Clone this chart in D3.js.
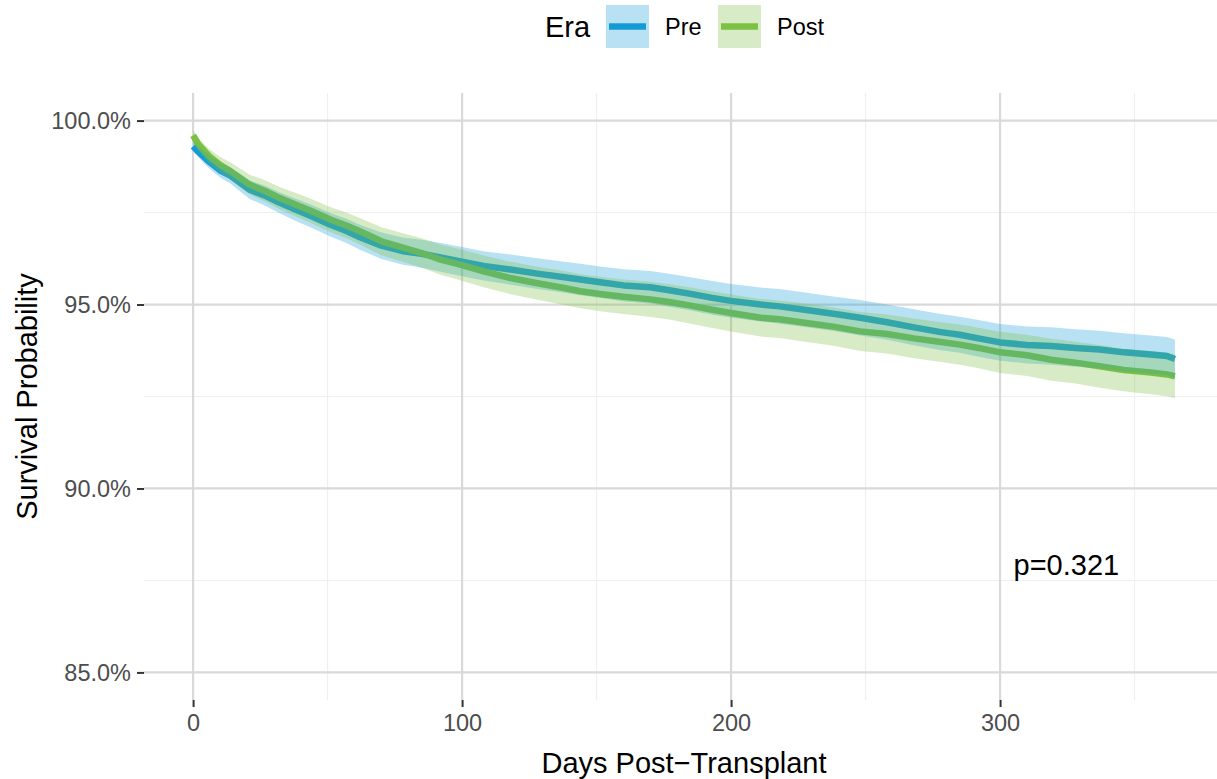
<!DOCTYPE html>
<html>
<head>
<meta charset="utf-8">
<script src="https://cdn.jsdelivr.net/npm/d3@7"></script>
<style>
  html, body { margin: 0; padding: 0; background: #fff; }
  svg { display: block; font-family: "Liberation Sans", Arial, sans-serif; }
</style>
</head>
<body>
<svg id="chart" width="1217" height="779"></svg>
<script>
// ---- data ----
const seriesNames = ["Pre", "Post"];
const days = [0,2,6,10,14,21,27,32,38,44,51,57,62,70,78,85,92,99,108,118,128,138,144,152,160,170,177,185,193,200,211,218,228,238,248,258,268,278,285,292,300,310,319,328,337,346,356,362,365];

const preSurv = [99.3,99.15,98.88,98.65,98.5,98.12,97.95,97.77,97.58,97.4,97.17,97.0,96.83,96.6,96.45,96.38,96.28,96.18,96.05,95.95,95.84,95.74,95.68,95.6,95.52,95.47,95.39,95.29,95.18,95.1,95.0,94.95,94.85,94.75,94.64,94.52,94.38,94.25,94.18,94.08,93.97,93.9,93.87,93.82,93.78,93.7,93.64,93.6,93.52];
const preUpper = [99.42,99.30,99.06,98.85,98.72,98.37,98.22,98.05,97.88,97.71,97.49,97.33,97.17,96.96,96.82,96.76,96.67,96.58,96.45,96.36,96.26,96.16,96.11,96.03,95.96,95.91,95.84,95.74,95.64,95.56,95.46,95.42,95.32,95.22,95.12,95.00,94.87,94.74,94.67,94.58,94.47,94.40,94.38,94.33,94.29,94.22,94.16,94.12,94.05];
const preLower = [99.18,99.00,98.70,98.45,98.28,97.87,97.68,97.49,97.28,97.09,96.85,96.67,96.49,96.24,96.08,96.00,95.89,95.78,95.65,95.54,95.42,95.32,95.25,95.17,95.08,95.03,94.94,94.84,94.72,94.64,94.54,94.48,94.38,94.28,94.16,94.04,93.89,93.76,93.69,93.58,93.47,93.40,93.36,93.31,93.27,93.18,93.12,93.08,92.99];

const postSurv = [99.6,99.35,99.03,98.8,98.62,98.26,98.08,97.9,97.72,97.54,97.31,97.15,96.99,96.72,96.55,96.4,96.22,96.09,95.9,95.72,95.58,95.45,95.36,95.28,95.21,95.14,95.07,94.97,94.86,94.77,94.64,94.6,94.5,94.4,94.27,94.2,94.08,93.98,93.91,93.82,93.7,93.62,93.5,93.42,93.32,93.22,93.15,93.1,93.05];
const postUpper = [99.74,99.52,99.23,99.02,98.86,98.53,98.37,98.20,98.04,97.87,97.65,97.50,97.35,97.10,96.94,96.80,96.63,96.51,96.33,96.16,96.03,95.91,95.82,95.75,95.68,95.62,95.55,95.46,95.36,95.27,95.15,95.11,95.02,94.92,94.80,94.73,94.62,94.52,94.46,94.37,94.26,94.18,94.07,93.99,93.90,93.80,93.74,93.69,93.65];
const postLower = [99.46,99.18,98.83,98.58,98.38,97.99,97.79,97.60,97.40,97.21,96.97,96.80,96.63,96.34,96.16,96.00,95.81,95.67,95.47,95.28,95.13,94.99,94.90,94.81,94.74,94.66,94.59,94.48,94.36,94.27,94.13,94.09,93.98,93.88,93.74,93.67,93.54,93.44,93.36,93.27,93.14,93.06,92.93,92.85,92.74,92.64,92.56,92.51,92.45];

const xTicks = [0, 100, 200, 300];
const xMinor = [50, 150, 250, 350];
const yTicks = [85, 90, 95, 100];
const yTickLabels = ["85.0%", "90.0%", "95.0%", "100.0%"];
const yMinor = [87.5, 92.5, 97.5];
const pLabel = "p=0.321";
const pPos = [305, 87.93];

// ---- style ----
const colors = { Pre: "#149BD7", Post: "#7BC142" };
const svg = d3.select("#chart");
const x = d3.scaleLinear().domain([-18.25, 383.25]).range([144, 1224]);
const y = d3.scaleLinear().domain([84.25, 100.75]).range([700, 93]);
const [pl, pr] = [144, 1224];
const [pt, pb] = [93, 700];

// grid
const grid = svg.append("g");
grid.selectAll(".ymin").data(yMinor).join("line")
  .attr("x1", pl).attr("x2", pr).attr("y1", d => y(d)).attr("y2", d => y(d))
  .attr("stroke", "#EFEFEF").attr("stroke-width", 1.1);
grid.selectAll(".xmin").data(xMinor).join("line")
  .attr("y1", pt).attr("y2", pb).attr("x1", d => x(d)).attr("x2", d => x(d))
  .attr("stroke", "#EFEFEF").attr("stroke-width", 1.1);
grid.selectAll(".ymaj").data(yTicks).join("line")
  .attr("x1", pl).attr("x2", pr).attr("y1", d => y(d)).attr("y2", d => y(d))
  .attr("stroke", "#D9D9D9").attr("stroke-width", 2.2);
grid.selectAll(".xmaj").data(xTicks).join("line")
  .attr("y1", pt).attr("y2", pb).attr("x1", d => x(d)).attr("x2", d => x(d))
  .attr("stroke", "#D9D9D9").attr("stroke-width", 2.2);

// axes
const yAxis = d3.axisLeft(y).tickValues(yTicks).tickSize(7).tickPadding(6)
  .tickFormat((d, i) => yTickLabels[i]);
const gy = svg.append("g").attr("transform", `translate(${pl},0)`).call(yAxis);
const xAxis = d3.axisBottom(x).tickValues(xTicks).tickSize(7).tickPadding(4)
  .tickFormat(d3.format("d"));
const gx = svg.append("g").attr("transform", `translate(0,${pb})`).call(xAxis);
[gx, gy].forEach(g => {
  g.select(".domain").remove();
  g.selectAll(".tick line").attr("stroke", "#333").attr("stroke-width", 2);
  g.selectAll(".tick text").attr("fill", "#4D4D4D").style("font-size", "23.5px")
    .style("font-family", "Liberation Sans, Arial, sans-serif");
});
gy.selectAll(".tick text").attr("dy", "0.35em");
gx.selectAll(".tick text").attr("dy", "0.85em");

// series
const series = [
  { name: "Pre", surv: preSurv, lo: preLower, hi: preUpper },
  { name: "Post", surv: postSurv, lo: postLower, hi: postUpper }
];
const plot = svg.append("g");
const line = d3.line().curve(d3.curveLinear).x(d => x(d[0])).y(d => y(d[1]));
const area = d3.area().curve(d3.curveLinear).x(d => x(d[0])).y0(d => y(d[1])).y1(d => y(d[2]));

series.forEach(s => {
  plot.append("path")
    .attr("d", line(days.map((d, i) => [d, s.surv[i]])))
    .attr("fill", "none").attr("stroke", colors[s.name])
    .attr("stroke-width", 6.5).attr("stroke-linejoin", "round");
});
series.forEach(s => {
  plot.append("path")
    .attr("d", area(days.map((d, i) => [d, s.lo[i], s.hi[i]])))
    .attr("fill", colors[s.name]).attr("fill-opacity", 0.3).attr("stroke", "none");
});

// p-value
svg.append("text").attr("x", x(pPos[0])).attr("y", y(pPos[1]))
  .attr("dy", "0.35em").attr("fill", "#000").style("font-size", "29px").text(pLabel);

// axis titles
svg.append("text").attr("x", (pl + pr) / 2).attr("y", 773).attr("text-anchor", "middle")
  .style("font-size", "29px").attr("fill", "#000").text("Days Post\u2212Transplant");
svg.append("text").attr("transform", `translate(37,${(pt + pb) / 2}) rotate(-90)`)
  .attr("text-anchor", "middle").style("font-size", "29px").attr("fill", "#000")
  .text("Survival Probability");

// legend
const leg = svg.append("g");
leg.append("text").attr("x", 545).attr("y", 27).attr("dy", "0.35em")
  .style("font-size", "29px").attr("fill", "#000").text("Era");
const legX = [606, 718];
seriesNames.forEach((n, i) => {
  const g = leg.append("g").attr("transform", `translate(${legX[i]},5)`);
  g.append("rect").attr("width", 43).attr("height", 43)
    .attr("fill", colors[n]).attr("fill-opacity", 0.3);
  g.append("line").attr("x1", 3).attr("x2", 40).attr("y1", 21.5).attr("y2", 21.5)
    .attr("stroke", colors[n]).attr("stroke-width", 6.5);
  g.append("text").attr("x", 59).attr("y", 21.5).attr("dy", "0.35em")
    .style("font-size", "23.5px").attr("fill", "#000").text(n);
});
</script>
</body>
</html>
